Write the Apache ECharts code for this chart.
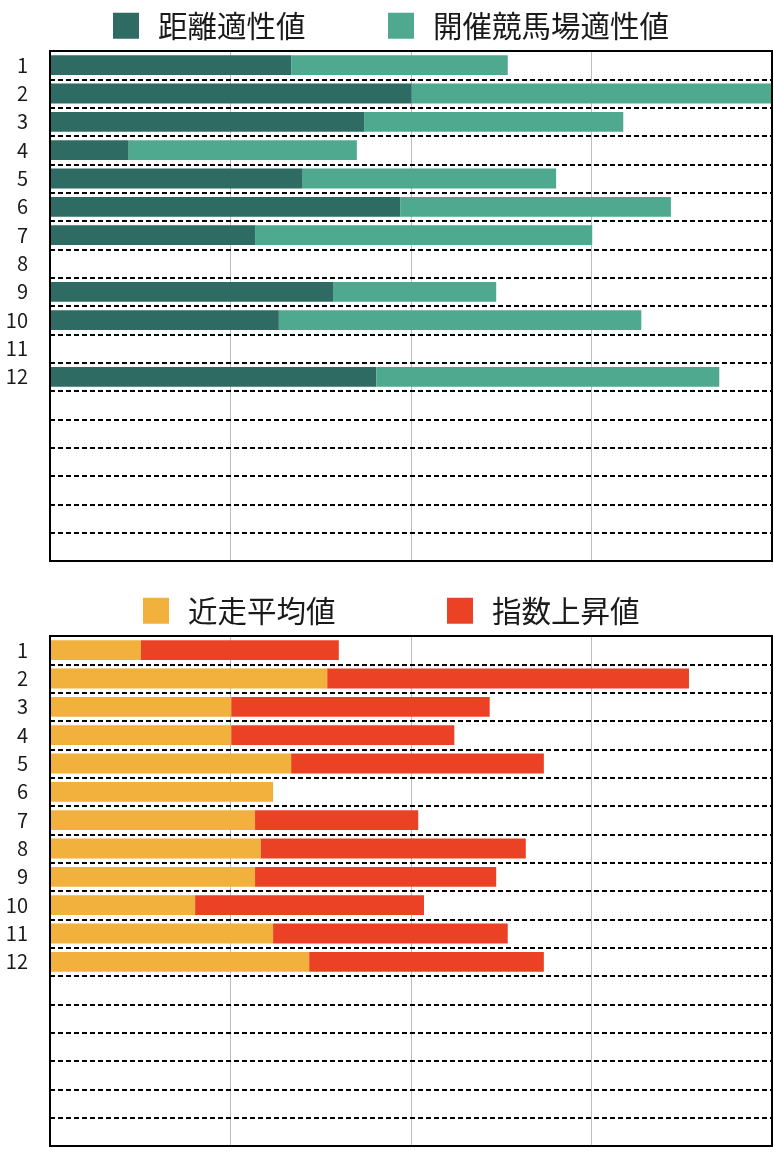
<!DOCTYPE html>
<html>
<head>
<meta charset="utf-8">
<script src="https://cdn.jsdelivr.net/npm/echarts@6/dist/echarts.min.js"></script>
<style>
html,body{margin:0;padding:0;background:#fff;}
#chart{width:774px;height:1158px;}
</style>
</head>
<body>
<div id="chart"></div>
<script>
// ---- data ----
const rowLabels = ['1','2','3','4','5','6','7','8','9','10','11','12','','','','','',''];
const topNames = ['距離適性値', '開催競馬場適性値'];
const distanceFit = [33.4, 50.1, 43.5, 10.9, 35.0, 48.5, 28.4, null, 39.2, 31.7, null, 45.2];
const courseFit   = [30.0, 49.9, 35.9, 31.6, 35.1, 37.5, 46.7, null, 22.6, 50.2, null, 47.5];
const bottomNames = ['近走平均値', '指数上昇値'];
const recentAvg   = [12.6, 38.4, 25.1, 25.1, 33.4, 30.9, 28.4, 29.2, 28.4, 20.1, 30.9, 35.9];
const indexRise   = [27.4, 50.1, 35.8, 30.9, 35.0, null, 22.6, 36.7, 33.4, 31.7, 32.5, 32.5];
const axisMax = 100;
const axisInterval = 25;

// ---- styles ----
const COLORS = ['#2D6B63', '#4EA98F', '#F2B03C', '#EB4226'];
const FONT = '"Noto Sans CJK JP", "Noto Sans", sans-serif';

function grid(top) {
  return {
    left: 50, width: 722, top: top, height: 510,
    show: true, z: 10, backgroundColor: 'transparent',
    borderColor: '#000', borderWidth: 2, containLabel: false
  };
}
function xAxis(gi) {
  return {
    type: 'value', gridIndex: gi, min: 0, max: axisMax, interval: axisInterval,
    axisLabel: {show: false}, axisLine: {show: false}, axisTick: {show: false},
    splitLine: {show: true, lineStyle: {color: '#bdbdbd', width: 1}}
  };
}
function yAxis(gi) {
  return {
    type: 'category', gridIndex: gi, inverse: true, data: rowLabels, z: 5,
    axisLine: {show: false}, axisTick: {show: false},
    axisLabel: {color: '#1a1a1a', fontSize: 20, fontFamily: FONT, margin: 22},
    splitLine: {show: true, lineStyle: {color: '#000', width: 2, type: [5, 3]}}
  };
}
function legend(name, left, top) {
  return {
    data: [name], left: left, top: top, icon: 'rect', padding: 0,
    itemWidth: 26, itemHeight: 26, itemGap: 0,
    textStyle: {fontSize: 29.5, color: '#1a1a1a', fontFamily: FONT, padding: [2, 0, 0, 14]}
  };
}
function bar(name, data, gi, color) {
  return {
    type: 'bar', name: name, data: data, stack: 'g' + gi,
    xAxisIndex: gi, yAxisIndex: gi, barCategoryGap: '30%',
    itemStyle: {color: color}, animation: false
  };
}

const chart = echarts.init(document.getElementById('chart'), null, {renderer: 'canvas'});
chart.setOption({
  backgroundColor: '#fff',
  animation: false,
  legend: [
    legend(topNames[0], 113, 11),
    legend(topNames[1], 388, 11),
    legend(bottomNames[0], 143, 596),
    legend(bottomNames[1], 447, 596)
  ],
  grid: [grid(51), grid(636)],
  xAxis: [xAxis(0), xAxis(1)],
  yAxis: [yAxis(0), yAxis(1)],
  series: [
    bar(topNames[0], distanceFit, 0, COLORS[0]),
    bar(topNames[1], courseFit, 0, COLORS[1]),
    bar(bottomNames[0], recentAvg, 1, COLORS[2]),
    bar(bottomNames[1], indexRise, 1, COLORS[3])
  ]
});
</script>
</body>
</html>
